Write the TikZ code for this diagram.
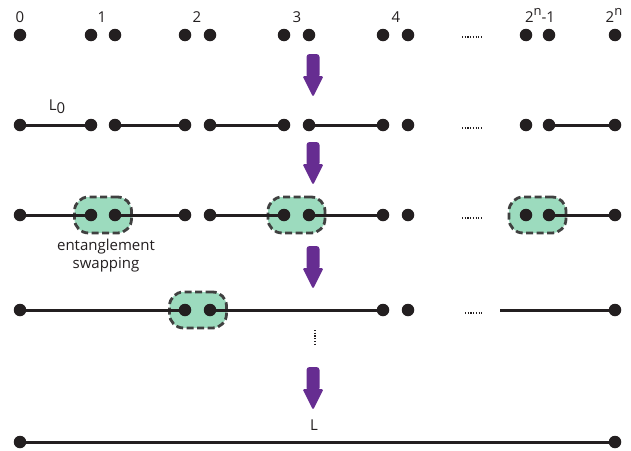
\documentclass[tikz,border=0pt]{standalone}
\usepackage{fontspec}
\setmainfont{Open Sans}
\definecolor{arrowpurple}{HTML}{662D91}
\definecolor{swapgreen}{HTML}{9CDBBE}
\definecolor{boxgray}{HTML}{404040}
\definecolor{dotblack}{HTML}{231F20}
\newcommand{\supn}{\raisebox{0.48em}{\fontsize{13}{13}\selectfont n}}
\tikzset{
  qdot/.style={circle, fill=dotblack, inner sep=0pt, minimum size=12.5pt},
  link/.style={draw=dotblack, line width=3pt},
  swapbox/.style={draw=boxgray, fill=swapgreen, line width=2.8pt,
    dash pattern=on 7pt off 3.5pt, rounded corners=14pt,
    minimum width=57pt, minimum height=36pt, inner sep=0pt},
  lbl/.style={font=\fontsize{15}{18}\selectfont, text=dotblack, inner sep=0pt},
  ellip/.style={draw=dotblack, line width=1.2pt, dash pattern=on 1.2pt off 1.5pt},
  steparrow/.pic={
    \fill[arrowpurple, rounded corners=3pt] (-6.5,24) -- (-6.5,0) -- (6.5,0) -- (6.5,24) -- cycle;
    \fill[arrowpurple, rounded corners=1.5pt] (-10.5,22) -- (10.5,22) -- (0,43) -- cycle;
  }
}
\begin{document}
\begin{tikzpicture}[x=1pt, y=-1pt]
\useasboundingbox (0,0) rectangle (631,450);

% ---- row 1: isolated nodes ----
\foreach \xx [count=\i] in {20,91,115,185,210,284,309,383,408,526,549,615}
  \node[qdot] (a\i) at (\xx,35) {};
\node[lbl] (n0) at (20,17) {0};
\node[lbl] (n1) at (102,17) {1};
\node[lbl] (n2) at (197,17) {2};
\node[lbl] (n3) at (297,17) {3};
\node[lbl] (n4) at (396,17) {4};
\node[lbl, anchor=base] (nm) at (540,22.5) {2\supn-1};
\node[lbl, anchor=base] (nn) at (614,22.5) {2\supn};
\draw[ellip] (462,37) -- (481,37);

\pic at (313,54) {steparrow};

% ---- row 2: elementary links ----
\foreach \xx [count=\i] in {20,91,115,185,210,284,309,383,408,526,549,615}
  \coordinate (bc\i) at (\xx,125);
\foreach \p/\q in {1/2,3/4,5/6,7/8,11/12}
  \draw[link] (bc\p) -- (bc\q);
\foreach \i in {1,...,12}
  \node[qdot] (b\i) at (bc\i) {};
\node[lbl] (l0) at (57,107) {L\raisebox{-0.35ex}{0}};
\draw[ellip] (462,128) -- (481,128);

\pic at (313,142) {steparrow};

% ---- row 3: swapping between neighbouring links ----
\node[swapbox] (s1) at (103,215) {};
\node[swapbox] (s2) at (296.5,215) {};
\node[swapbox] (s3) at (537.5,215) {};
\foreach \xx [count=\i] in {20,91,115,185,210,284,309,383,408,526,549,615}
  \coordinate (cc\i) at (\xx,215);
\foreach \p/\q in {1/2,3/4,5/6,7/8,11/12}
  \draw[link] (cc\p) -- (cc\q);
\foreach \i in {1,...,12}
  \node[qdot] (c\i) at (cc\i) {};
\node[lbl, align=center] (swaplbl) at (106,256) {entanglement\\swapping};
\draw[ellip] (462,218) -- (481,218);

\pic at (313,246) {steparrow};

% ---- row 4: doubled links ----
\node[swapbox] (s4) at (198,310) {};
\coordinate (d1c) at (20,310);
\coordinate (d2c) at (185,310);
\coordinate (d3c) at (210,310);
\coordinate (d4c) at (383,310);
\coordinate (d5c) at (408,310);
\coordinate (d6c) at (615,310);
\coordinate (dopen) at (500,310);
\draw[link] (d1c) -- (d2c);
\draw[link] (d3c) -- (d4c);
\draw[link] (dopen) -- (d6c);
\foreach \i in {1,...,6}
  \node[qdot] (d\i) at (d\i c) {};
\draw[ellip] (465,313) -- (483,313);
\draw[ellip] (315,330) -- (315,346);

\pic at (313,367) {steparrow};

% ---- row 5: end-to-end link ----
\node[qdot] (e1) at (20,442) {};
\node[qdot] (e2) at (615,442) {};
\draw[link] (e1) -- (e2);
\node[lbl] (lfull) at (314,425) {L};
\end{tikzpicture}
\end{document}
